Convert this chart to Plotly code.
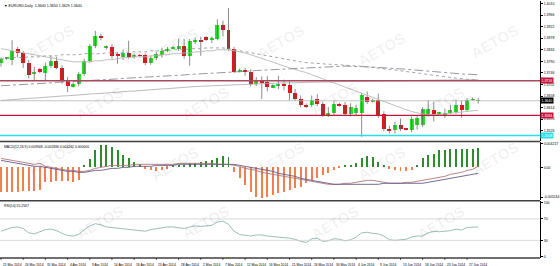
import plotly.graph_objects as go

# ---------------- data ----------------
bars = list(range(87))
opens = [1.3785,1.3800,1.3795,1.3835,1.3820,1.3785,1.3740,1.3762,1.3747,1.3773,
         1.3792,1.3766,1.3716,1.3694,1.3705,1.3743,1.3792,1.3849,1.3887,1.3841,
         1.3845,1.3819,1.3807,1.3822,1.3807,1.3813,1.3815,1.3785,1.3804,1.3815,
         1.3830,1.3838,1.3838,1.3849,1.3811,1.3864,1.3872,1.3883,1.3872,1.3876,
         1.3929,1.3910,1.3838,1.3750,1.3758,1.3750,1.3705,1.3713,1.3712,1.3690,
         1.3697,1.3705,1.3701,1.3671,1.3648,1.3625,1.3625,1.3648,1.3629,1.3584,
         1.3595,1.3629,1.3625,1.3591,1.3595,1.3595,1.3656,1.3637,1.3644,1.3591,
         1.3534,1.3527,1.3546,1.3534,1.3527,1.3546,1.3546,1.3591,1.3606,1.3591,
         1.3587,1.3595,1.3599,1.3625,1.3606,1.3644,1.3640]
highs = [1.3805,1.3806,1.3870,1.3845,1.3830,1.3795,1.3770,1.3765,1.3785,1.3810,
         1.3807,1.3775,1.3730,1.3710,1.3750,1.3800,1.3855,1.3906,1.3895,1.3850,
         1.3855,1.3825,1.3835,1.3868,1.3820,1.3818,1.3820,1.3812,1.3825,1.3840,
         1.3845,1.3850,1.3876,1.3876,1.3875,1.3880,1.3883,1.3886,1.3885,1.3950,
         1.3945,1.3993,1.3845,1.3762,1.3765,1.3760,1.3730,1.3733,1.3733,1.3703,
         1.3735,1.3720,1.3715,1.3685,1.3660,1.3630,1.3660,1.3665,1.3635,1.3615,
         1.3640,1.3632,1.3635,1.3630,1.3625,1.3670,1.3675,1.3648,1.3667,1.3600,
         1.3545,1.3560,1.3572,1.3537,1.3580,1.3585,1.3615,1.3641,1.3637,1.3598,
         1.3610,1.3625,1.3645,1.3640,1.3650,1.3652,1.3650]
lows = [1.3770,1.3796,1.3775,1.3805,1.3765,1.3725,1.3715,1.3745,1.3718,1.3765,
        1.3760,1.3705,1.3673,1.3690,1.3695,1.3735,1.3785,1.3840,1.3870,1.3835,
        1.3800,1.3781,1.3795,1.3800,1.3800,1.3808,1.3775,1.3777,1.3795,1.3805,
        1.3825,1.3835,1.3830,1.3800,1.3773,1.3855,1.3811,1.3868,1.3860,1.3870,
        1.3885,1.3830,1.3745,1.3748,1.3735,1.3695,1.3695,1.3647,1.3676,1.3688,
        1.3685,1.3680,1.3641,1.3640,1.3615,1.3612,1.3615,1.3620,1.3578,1.3578,
        1.3585,1.3618,1.3585,1.3580,1.3585,1.3503,1.3628,1.3633,1.3575,1.3525,
        1.3515,1.3515,1.3525,1.3527,1.3520,1.3530,1.3540,1.3580,1.3561,1.3588,
        1.3575,1.3590,1.3590,1.3576,1.3600,1.3640,1.3629]
closes = [1.3800,1.3803,1.3830,1.3820,1.3785,1.3737,1.3748,1.3750,1.3773,1.3792,
          1.3766,1.3716,1.3697,1.3705,1.3743,1.3792,1.3849,1.3887,1.3880,1.3845,
          1.3811,1.3811,1.3822,1.3807,1.3815,1.3811,1.3785,1.3804,1.3819,1.3830,
          1.3838,1.3845,1.3849,1.3811,1.3868,1.3872,1.3864,1.3872,1.3876,1.3929,
          1.3910,1.3838,1.3750,1.3758,1.3750,1.3705,1.3716,1.3709,1.3692,1.3700,
          1.3705,1.3697,1.3671,1.3648,1.3625,1.3618,1.3644,1.3629,1.3584,1.3595,
          1.3629,1.3622,1.3591,1.3618,1.3614,1.3660,1.3637,1.3644,1.3584,1.3534,
          1.3527,1.3546,1.3534,1.3531,1.3572,1.3576,1.3610,1.3610,1.3591,1.3595,
          1.3595,1.3603,1.3625,1.3606,1.3644,1.3646,1.3640]

# moving averages
ma_fast = [1.3838,1.3834,1.3830,1.3826,1.3822,1.3819,1.3815,1.3811,1.3807,1.3804,
           1.3800,1.3796,1.3792,1.3788,1.3788,1.3788,1.3788,1.3792,1.3792,1.3796,
           1.3796,1.3800,1.3804,1.3804,1.3807,1.3807,1.3807,1.3811,1.3811,1.3815,
           1.3815,1.3819,1.3819,1.3822,1.3822,1.3826,1.3826,1.3830,1.3830,1.3834,
           1.3834,1.3834,1.3830,1.3826,1.3822,1.3815,1.3809,1.3801,1.3794,1.3786,
           1.3779,1.3771,1.3765,1.3759,1.3754,1.3747,1.3739,1.3731,1.3724,1.3716,
           1.3709,1.3701,1.3693,1.3686,1.3678,1.3669,1.3660,1.3652,1.3644,1.3636,
           1.3628,1.3620,1.3613,1.3606,1.3599,1.3593,1.3589,1.3587,1.3587,1.3588,
           1.3590,1.3592,1.3595,1.3597,1.3600,1.3602,1.3604]
ma_dot = [1.3800,1.3800,1.3804,1.3804,1.3804,1.3807,1.3807,1.3807,1.3811,1.3811,
          1.3811,1.3815,1.3815,1.3815,1.3815,1.3819,1.3819,1.3819,1.3819,1.3822,
          1.3822,1.3822,1.3822,1.3826,1.3826,1.3826,1.3826,1.3830,1.3830,1.3830,
          1.3830,1.3834,1.3834,1.3834,1.3838,1.3838,1.3838,1.3841,1.3841,1.3841,
          1.3841,1.3838,1.3834,1.3830,1.3826,1.3822,1.3819,1.3815,1.3811,1.3807,
          1.3804,1.3800,1.3796,1.3792,1.3788,1.3785,1.3783,1.3781,1.3780,1.3779,
          1.3778,1.3777,1.3776,1.3775,1.3773,1.3771,1.3769,1.3767,1.3765,1.3762,
          1.3760,1.3757,1.3754,1.3751,1.3748,1.3745,1.3742,1.3739,1.3736,1.3733,
          1.3731,1.3728,1.3726,1.3724,1.3722,1.3720,1.3718]
ma_slow = [1.3697,1.3698,1.3700,1.3701,1.3702,1.3703,1.3705,1.3706,1.3707,1.3708,
           1.3710,1.3711,1.3712,1.3713,1.3715,1.3716,1.3717,1.3718,1.3720,1.3721,
           1.3722,1.3723,1.3725,1.3726,1.3727,1.3728,1.3730,1.3731,1.3732,1.3733,
           1.3735,1.3736,1.3737,1.3738,1.3740,1.3741,1.3742,1.3743,1.3745,1.3746,
           1.3747,1.3748,1.3750,1.3751,1.3752,1.3753,1.3755,1.3756,1.3757,1.3758,
           1.3760,1.3761,1.3762,1.3763,1.3765,1.3766,1.3767,1.3768,1.3770,1.3771,
           1.3772,1.3772,1.3772,1.3771,1.3771,1.3770,1.3769,1.3768,1.3767,1.3766,
           1.3765,1.3764,1.3762,1.3760,1.3758,1.3756,1.3754,1.3752,1.3750,1.3748,
           1.3746,1.3745,1.3743,1.3742,1.3741,1.3740,1.3739]
ma_long = [1.3641,1.3643,1.3644,1.3646,1.3647,1.3649,1.3650,1.3652,1.3653,1.3655,
           1.3656,1.3658,1.3659,1.3661,1.3662,1.3664,1.3665,1.3667,1.3668,1.3670,
           1.3671,1.3673,1.3674,1.3676,1.3677,1.3679,1.3680,1.3682,1.3683,1.3685,
           1.3686,1.3688,1.3689,1.3691,1.3692,1.3694,1.3695,1.3696,1.3697,1.3698,
           1.3699,1.3700,1.3701,1.3702,1.3703,1.3704,1.3704,1.3705,1.3706,1.3706,
           1.3707,1.3708,1.3708,1.3709,1.3709,1.3710,1.3710,1.3711,1.3711,1.3712,
           1.3712,1.3713,1.3713,1.3713,1.3714,1.3714,1.3714,1.3715,1.3715,1.3715,
           1.3716,1.3716,1.3716,1.3717,1.3717,1.3717,1.3718,1.3718,1.3718,1.3718,
           1.3719,1.3719,1.3719,1.3719,1.3720,1.3720,1.3720]

macd_hist = [-0.00438,-0.00438,-0.00438,-0.00438,-0.00420,-0.00420,-0.00420,-0.00403,-0.00263,-0.00263,
             -0.00245,-0.00245,-0.00245,-0.00263,-0.00228,0.00035,0.00140,0.00298,0.00385,0.00385,
             0.00350,0.00298,0.00210,0.00158,0.00088,0.00053,-0.00035,-0.00053,-0.00070,-0.00053,
             -0.00035,0.00018,0.00035,0.00035,0.00070,0.00070,0.00088,0.00105,0.00123,0.00158,
             0.00193,0.00175,-0.00088,-0.00193,-0.00315,-0.00438,-0.00525,-0.00543,-0.00525,-0.00490,
             -0.00455,-0.00438,-0.00403,-0.00368,-0.00350,-0.00280,-0.00228,-0.00193,-0.00140,-0.00105,
             -0.00053,-0.00018,0.00018,0.00035,0.00070,0.00158,0.00193,0.00175,0.00088,0.00018,
             -0.00035,-0.00053,-0.00070,-0.00070,-0.00053,0.00035,0.00158,0.00210,0.00228,0.00298,
             0.00298,0.00315,0.00315,0.00315,0.00315,0.00315,0.00333]
macd_a = [0.00158,0.00140,0.00123,0.00105,0.00088,0.00070,0.00053,0.00070,0.00018,0.00000,
          -0.00018,-0.00035,-0.00053,-0.00053,-0.00070,-0.00070,-0.00053,-0.00018,0.00000,0.00018,
          0.00035,0.00035,0.00035,0.00035,0.00053,0.00053,0.00053,0.00053,0.00053,0.00053,
          0.00053,0.00053,0.00070,0.00070,0.00070,0.00070,0.00070,0.00070,0.00070,0.00053,
          0.00053,0.00053,0.00035,0.00018,-0.00018,-0.00035,-0.00053,-0.00088,-0.00105,-0.00123,
          -0.00140,-0.00158,-0.00175,-0.00193,-0.00210,-0.00228,-0.00245,-0.00263,-0.00280,-0.00298,
          -0.00298,-0.00298,-0.00280,-0.00280,-0.00263,-0.00245,-0.00228,-0.00228,-0.00245,-0.00263,
          -0.00280,-0.00280,-0.00280,-0.00263,-0.00263,-0.00245,-0.00228,-0.00210,-0.00193,-0.00175,
          -0.00158,-0.00123,-0.00105,-0.00088,-0.00053,-0.00035,0.00018]
macd_b = [0.00123,0.00105,0.00088,0.00070,0.00053,0.00035,0.00018,0.00018,0.00000,-0.00018,
          -0.00035,-0.00053,-0.00070,-0.00070,-0.00088,-0.00088,-0.00070,-0.00053,-0.00053,-0.00035,
          -0.00018,-0.00018,0.00000,0.00000,0.00018,0.00018,0.00018,0.00018,0.00035,0.00035,
          0.00035,0.00035,0.00053,0.00053,0.00053,0.00053,0.00053,0.00053,0.00053,0.00053,
          0.00053,0.00053,0.00053,0.00035,0.00018,0.00000,-0.00018,-0.00035,-0.00053,-0.00070,
          -0.00105,-0.00123,-0.00140,-0.00158,-0.00193,-0.00210,-0.00228,-0.00245,-0.00263,-0.00280,
          -0.00298,-0.00298,-0.00298,-0.00298,-0.00298,-0.00298,-0.00298,-0.00298,-0.00298,-0.00280,
          -0.00280,-0.00280,-0.00280,-0.00280,-0.00280,-0.00280,-0.00280,-0.00263,-0.00245,-0.00228,
          -0.00210,-0.00193,-0.00175,-0.00158,-0.00140,-0.00123,-0.00105]

rsi = [47,50,54,55,52,44,42,46,50,51,48,43,39,38,41,50,57,61,59,55,
       54,52,52,51,50,48,47,50,52,54,55,55,54,52,55,57,56,57,58,64,
       66,60,47,41,40,38,40,40,38,37,37,36,34,32,28,26,33,34,28,29,
       33,32,29,31,36,44,45,43,42,38,31,30,31,32,36,38,38,44,47,46,
       47,48,51,49,54,55,55]

tick_bars = [0,4,8,12,16,20,24,28,32,36,40,44,48,52,56,60,64,68,72,76,80,84]
tick_labels = ["21 Mar 2014","26 Mar 2014","31 Mar 2014","4 Apr 2014","9 Apr 2014",
               "14 Apr 2014","18 Apr 2014","23 Apr 2014","28 Apr 2014","2 May 2014",
               "7 May 2014","12 May 2014","16 May 2014","21 May 2014","26 May 2014",
               "30 May 2014","4 Jun 2014","9 Jun 2014","13 Jun 2014","18 Jun 2014",
               "23 Jun 2014","27 Jun 2014"]

price_ticks = [1.4010,1.3966,1.3922,1.3878,1.3834,1.3790,1.3746,1.3702,1.3658,1.3614,1.3570,1.3526,1.3482]
level_red_top = 1.3716
level_red_low = 1.3584
level_cyan = 1.3508
last_price = 1.3640
macd_ticks = [0.004217, 0.0, -0.005244]
macd_tick_text = ["0.004217", "0.00", "-0.005244"]
rsi_ticks = [100, 70, 30, 0]

header = "\u25bc EURUSD,Daily  1.3640 1.3650 1.3629 1.3640"
macd_title = "MACD(12,26,9) 0.003948 -0.001836 0.004262 0.000000"
rsi_title = "RSI(14) 55.2567"

# ---------------- figure ----------------
FONT = "Liberation Sans"
fig = go.Figure()

# wicks
wx, wy = [], []
for i, h, l in zip(bars, highs, lows):
    wx += [i, i, None]
    wy += [l, h, None]
fig.add_trace(go.Scatter(x=wx, y=wy, mode="lines", line=dict(color="#5a5a5a", width=0.7),
                         xaxis="x", yaxis="y", showlegend=False, hoverinfo="skip"))
# bodies
body_base = [min(o, c) for o, c in zip(opens, closes)]
body_len = [max(abs(c - o), 0.00005) for o, c in zip(opens, closes)]
body_col = ["#27e127" if c >= o else "#e0151c" for o, c in zip(opens, closes)]
fig.add_trace(go.Bar(x=bars, y=body_len, base=body_base, width=0.72,
                     marker=dict(color=body_col, line=dict(width=0)),
                     xaxis="x", yaxis="y", showlegend=False, hoverinfo="skip"))

fig.add_trace(go.Scatter(x=bars, y=ma_long, mode="lines",
    line=dict(color="#a9a9a9", width=0.8), xaxis="x", yaxis="y", showlegend=False))
fig.add_trace(go.Scatter(x=bars, y=ma_fast, mode="lines",
    line=dict(color="#b8b8b8", width=0.9), xaxis="x", yaxis="y", showlegend=False))
fig.add_trace(go.Scatter(x=bars, y=ma_dot, mode="lines",
    line=dict(color="#9a9a9a", width=0.9, dash="dot"), xaxis="x", yaxis="y", showlegend=False))
fig.add_trace(go.Scatter(x=bars, y=ma_slow, mode="lines",
    line=dict(color="#8a8a9a", width=0.9, dash="dashdot"), xaxis="x", yaxis="y", showlegend=False))

hist_colors = ["#2e8b2e" if v >= 0 else "#f08050" for v in macd_hist]
fig.add_trace(go.Bar(x=bars, y=macd_hist, marker=dict(color=hist_colors, line=dict(width=0)),
    width=0.18, xaxis="x2", yaxis="y2", showlegend=False))
fig.add_trace(go.Scatter(x=bars, y=macd_a, mode="lines",
    line=dict(color="#b07878", width=0.9), xaxis="x2", yaxis="y2", showlegend=False))
fig.add_trace(go.Scatter(x=bars, y=macd_b, mode="lines",
    line=dict(color="#6a5a8a", width=0.9), xaxis="x2", yaxis="y2", showlegend=False))

fig.add_trace(go.Scatter(x=bars, y=rsi, mode="lines",
    line=dict(color="#8fb5b0", width=0.9), xaxis="x3", yaxis="y3", showlegend=False))

XR = [-0.18, 97.14]
common_x = dict(range=XR, showgrid=False, zeroline=False, showticklabels=False,
                showline=False, fixedrange=True)
fig.update_layout(
    width=560, height=266, margin=dict(l=0, r=15, t=0, b=8),
    paper_bgcolor="white", plot_bgcolor="white", bargap=0, barmode="overlay",
    font=dict(family=FONT, size=3.5, color="#000000"),
    xaxis=dict(domain=[0, 1], anchor="y", **common_x),
    xaxis2=dict(domain=[0, 1], anchor="y2", matches="x", **common_x),
    xaxis3=dict(domain=[0, 1], anchor="y3", matches="x", **common_x),
    yaxis=dict(domain=[0.4535, 1.0], range=[1.34851, 1.40195], side="right",
               tickvals=price_ticks, ticktext=[f"{v:.4f}" for v in price_ticks],
               ticks="outside", ticklen=2, tickcolor="#000", showgrid=False, zeroline=False,
               showline=True, linecolor="#000", linewidth=1, tickfont=dict(size=3.5)),
    yaxis2=dict(domain=[0.2248, 0.4496], range=[-0.005775, 0.004375], side="right",
                tickvals=macd_ticks, ticktext=macd_tick_text,
                ticks="outside", ticklen=2, tickcolor="#000", showgrid=False, zeroline=False,
                showline=True, linecolor="#000", linewidth=1, tickfont=dict(size=3.5)),
    yaxis3=dict(domain=[0.0, 0.2209], range=[-3, 103], side="right",
                tickvals=rsi_ticks, ticktext=[str(v) for v in rsi_ticks],
                ticks="outside", ticklen=2, tickcolor="#000", showgrid=False, zeroline=False,
                showline=True, linecolor="#000", linewidth=1, tickfont=dict(size=3.5)),
)

shapes = []
shapes.append(dict(type="line", xref="paper", yref="y", x0=0, x1=1, y0=level_red_top, y1=level_red_top,
                   line=dict(color="#a84a5c", width=1.6)))
shapes.append(dict(type="line", xref="paper", yref="y", x0=0, x1=1, y0=last_price, y1=last_price,
                   line=dict(color="#b5b5b5", width=0.8)))
shapes.append(dict(type="line", xref="paper", yref="y", x0=0, x1=1, y0=level_red_low, y1=level_red_low,
                   line=dict(color="#c8143c", width=1.2)))
shapes.append(dict(type="line", xref="paper", yref="y", x0=0, x1=1, y0=level_cyan, y1=level_cyan,
                   line=dict(color="#28e0e8", width=1.4)))
for lv in (70, 30):
    shapes.append(dict(type="line", xref="paper", yref="y3", x0=0, x1=1, y0=lv, y1=lv,
                       line=dict(color="#cfcfcf", width=0.8)))
for yp in (0.4535, 0.2229, 0.0):
    shapes.append(dict(type="line", xref="paper", yref="paper", x0=0, x1=1.0, y0=yp, y1=yp,
                       line=dict(color="#404040", width=1.4)))
for b in tick_bars:
    shapes.append(dict(type="line", xref="x3", yref="paper", x0=b, x1=b, y0=0, y1=-0.008,
                       line=dict(color="#000", width=0.6)))
fig.update_layout(shapes=shapes)

ann = []
for b, t in zip(tick_bars, tick_labels):
    ann.append(dict(x=b, y=-0.012, xref="x3", yref="paper", text=t, showarrow=False,
                    xanchor="left", yanchor="top", font=dict(size=3.3, color="#000")))
ann.append(dict(x=0.003, y=0.998, xref="paper", yref="paper", text=header, showarrow=False,
                xanchor="left", yanchor="top", font=dict(size=3.6, color="#000")))
ann.append(dict(x=0.003, y=0.447, xref="paper", yref="paper", text=macd_title, showarrow=False,
                xanchor="left", yanchor="top", font=dict(size=3.4, color="#000")))
ann.append(dict(x=0.003, y=0.219, xref="paper", yref="paper", text=rsi_title, showarrow=False,
                xanchor="left", yanchor="top", font=dict(size=3.4, color="#000")))
for val, bg in ((level_red_top, "#c8143c"), (last_price, "#000000"), (level_red_low, "#c8143c"),
                (level_cyan, "#28e0e8")):
    ann.append(dict(x=1.0, y=val, xref="paper", yref="y", text=f"{val:.4f}", showarrow=False,
                    xanchor="left", yanchor="middle", bgcolor=bg, borderpad=0.5,
                    font=dict(size=3.5, color="#ffffff")))
wm_pos = [(0.04, 0.93), (0.27, 0.92), (0.52, 0.93), (0.76, 0.90), (0.97, 0.93),
          (0.13, 0.60), (0.38, 0.60), (0.62, 0.62), (0.87, 0.60),
          (0.04, 0.30), (0.27, 0.28), (0.52, 0.30), (0.76, 0.28), (0.97, 0.30),
          (0.13, 0.05), (0.38, 0.05), (0.62, 0.05), (0.87, 0.05)]
for (wx_, wy_) in wm_pos:
    ann.append(dict(x=wx_, y=wy_, xref="paper", yref="paper", text="<b>AETOS</b>", showarrow=False,
                    textangle=-30, font=dict(size=15, color="rgba(0,0,0,0.06)")))
fig.update_layout(annotations=ann)

fig.write_html("out.html")
